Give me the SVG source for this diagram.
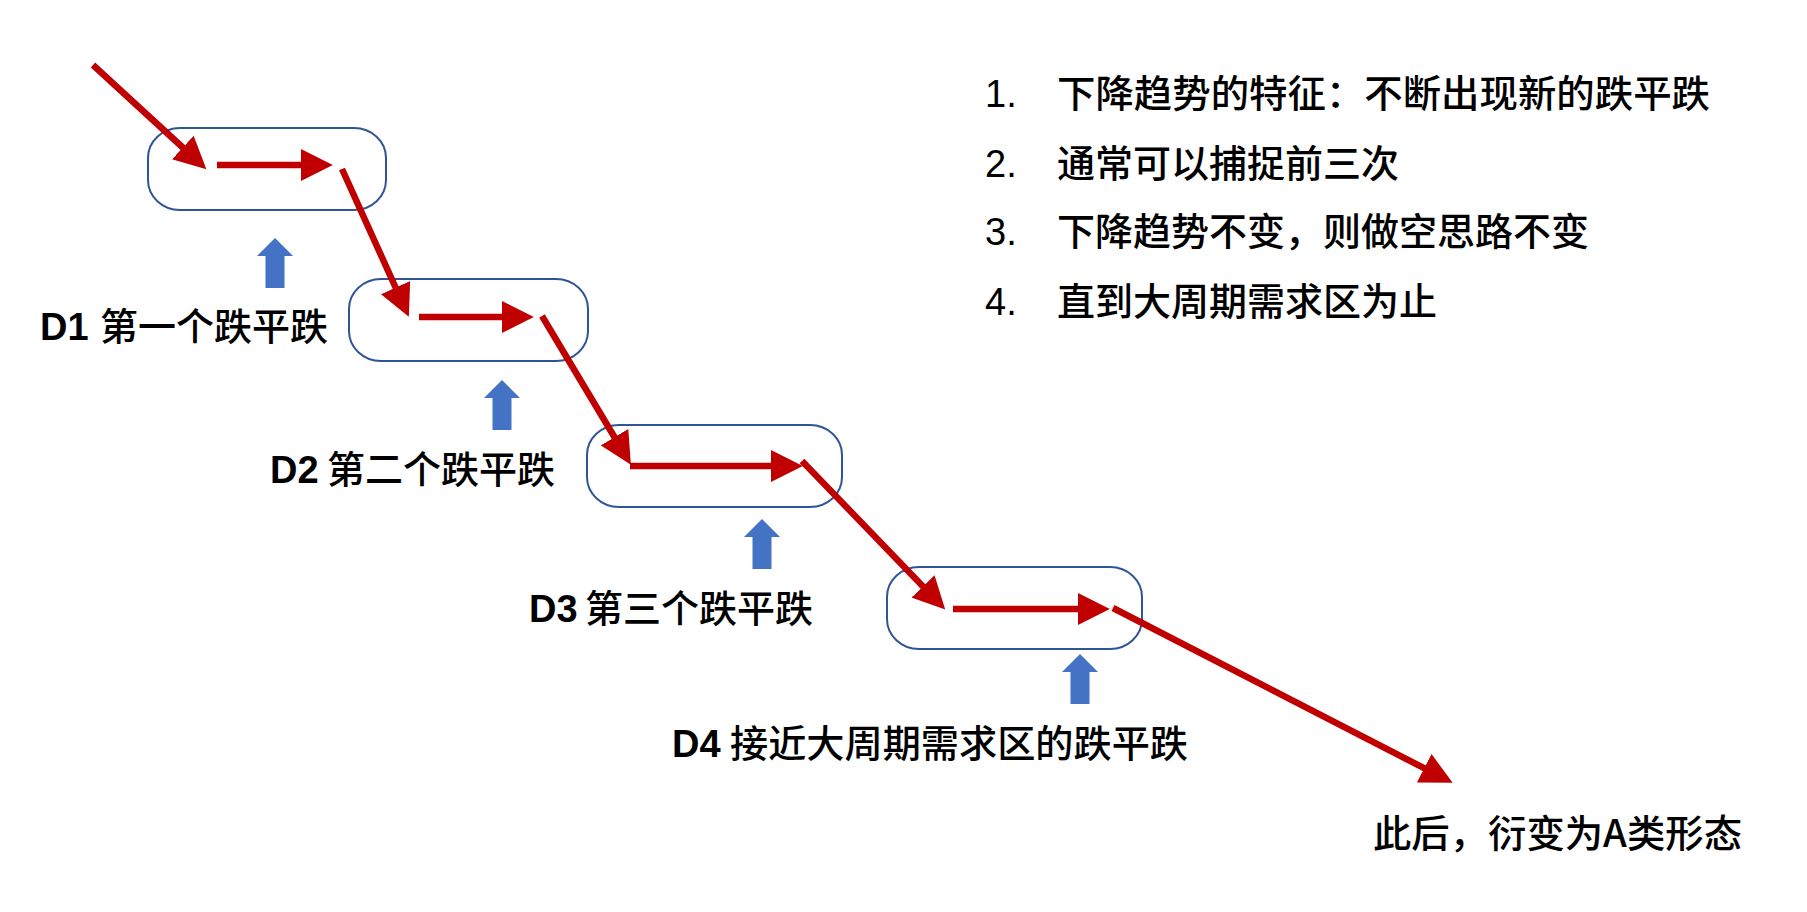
<svg xmlns="http://www.w3.org/2000/svg" xmlns:xlink="http://www.w3.org/1999/xlink" width="1807" height="912" viewBox="0 0 1807 912">
<style>
.box{fill:none;stroke:#2F5597;stroke-width:2}
.red{stroke:#C00000;stroke-width:6.5;fill:none;marker-end:url(#ah)}
.txt{font-family:"Liberation Sans","Noto Sans CJK SC",sans-serif;font-size:38px;fill:#000}
.cjk{font-family:"Noto Sans CJK SC",sans-serif;font-weight:500}
.b{font-weight:bold}
.blue{fill:#4472C4}
</style>
<defs>
<marker id="ah" markerUnits="userSpaceOnUse" markerWidth="32" markerHeight="32" refX="2" refY="15" orient="auto" viewBox="0 0 30 30">
<path d="M0,0 L30,15 L0,30 Z" fill="#C00000"/>
</marker>
<path id="up" d="M0,0 L18,18 L9.5,18 L9.5,50 L-9.5,50 L-9.5,18 L-18,18 Z"/>
</defs>
<rect width="1807" height="912" fill="#fff"/>
<g id="box1"><rect class="box" x="148" y="128" width="238" height="82" rx="32" ry="30"/></g>
<g id="box2"><rect class="box" x="349" y="279" width="239" height="82" rx="32" ry="30"/></g>
<g id="box3"><rect class="box" x="587" y="425" width="255" height="82" rx="32" ry="30"/></g>
<g id="box4"><rect class="box" x="887" y="567" width="255" height="82" rx="32" ry="30"/></g>
<g id="connectors">
<line class="red" x1="93" y1="65" x2="184.4" y2="149"/>
<line class="red" x1="217" y1="165" x2="303" y2="165"/>
<line class="red" x1="342" y1="169" x2="396.5" y2="289.5"/>
<line class="red" x1="419" y1="317" x2="504" y2="317"/>
<line class="red" x1="542" y1="316" x2="615.6" y2="439"/>
<line class="red" x1="630" y1="466" x2="773" y2="466"/>
<line class="red" x1="802" y1="461" x2="924.5" y2="587.9"/>
<line class="red" x1="953" y1="609" x2="1080" y2="609"/>
<line class="red" x1="1113" y1="608" x2="1426.1" y2="769.2"/>
</g>
<g id="label1">
<use xlink:href="#up" href="#up" class="blue" x="275" y="238"/>
<text class="txt" y="340"><tspan class="b" x="40">D1</tspan><tspan class="cjk" x="100">第一个跌平跌</tspan></text>
</g>
<g id="label2">
<use xlink:href="#up" href="#up" class="blue" x="502" y="380"/>
<text class="txt" y="483"><tspan class="b" x="270">D2</tspan><tspan class="cjk" x="327">第二个跌平跌</tspan></text>
</g>
<g id="label3">
<use xlink:href="#up" href="#up" class="blue" x="762" y="519"/>
<text class="txt" y="622"><tspan class="b" x="529">D3</tspan><tspan class="cjk" x="585">第三个跌平跌</tspan></text>
</g>
<g id="label4">
<use xlink:href="#up" href="#up" class="blue" x="1080" y="654"/>
<text class="txt" y="757"><tspan class="b" x="672">D4</tspan><tspan class="cjk" x="730" textLength="458" lengthAdjust="spacingAndGlyphs">接近大周期需求区的跌平跌</tspan></text>
</g>
<g id="result">
<text class="txt cjk" x="1373" y="847" textLength="369" lengthAdjust="spacingAndGlyphs">此后，衍变为A类形态</text>
</g>
<g id="notes">
<text class="txt" x="985" y="107">1.</text>
<text class="txt cjk" x="1057" y="107" textLength="653" lengthAdjust="spacingAndGlyphs">下降趋势的特征：不断出现新的跌平跌</text>
<text class="txt" x="985" y="177">2.</text>
<text class="txt cjk" x="1057" y="177">通常可以捕捉前三次</text>
<text class="txt" x="985" y="245">3.</text>
<text class="txt cjk" x="1057" y="245">下降趋势不变，则做空思路不变</text>
<text class="txt" x="985" y="315">4.</text>
<text class="txt cjk" x="1057" y="315">直到大周期需求区为止</text>
</g>
</svg>
